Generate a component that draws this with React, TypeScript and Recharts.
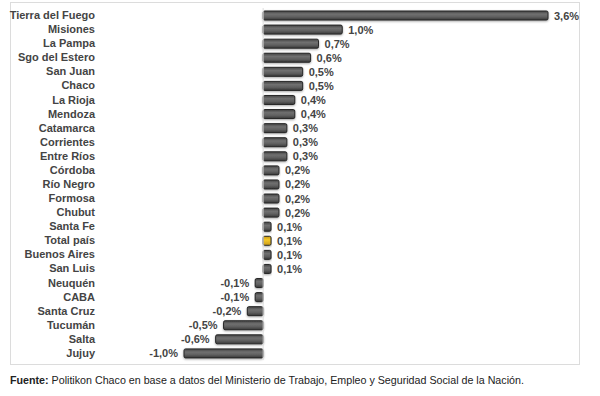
import React from "react";
import { BarChart, Bar, XAxis, YAxis, Cell, LabelList, ReferenceLine } from "recharts";

const categories = [
  "Tierra del Fuego", "Misiones", "La Pampa", "Sgo del Estero", "San Juan", "Chaco",
  "La Rioja", "Mendoza", "Catamarca", "Corrientes", "Entre Ríos", "Córdoba",
  "Río Negro", "Formosa", "Chubut", "Santa Fe", "Total país", "Buenos Aires",
  "San Luis", "Neuquén", "CABA", "Santa Cruz", "Tucumán", "Salta", "Jujuy",
];
const values = [
  3.6, 1.0, 0.7, 0.6, 0.5, 0.5, 0.4, 0.4, 0.3, 0.3, 0.3, 0.2, 0.2, 0.2, 0.2,
  0.1, 0.1, 0.1, 0.1, -0.1, -0.1, -0.2, -0.5, -0.6, -1.0,
];
const highlight = "Total país";
const xDomain = [-1.0, 3.6];

const data = categories.map((name, i) => ({ name, value: values[i] }));

const fmt = (v: number) => `${v.toFixed(1).replace(".", ",")}%`;
const FONT = "'Liberation Sans', Arial, sans-serif";

const CatTick = (props: any) => {
  const { y, payload } = props;
  return (
    <text x={95} y={y} dy={4} textAnchor="end" fontFamily={FONT} fontSize={11} fontWeight="bold" fill="#444">
      {payload.value}
    </text>
  );
};

const ValueLabel = (props: any) => {
  const { x, y, width, height, value } = props;
  const neg = value < 0;
  const end = x + width;
  const lx = neg ? Math.min(x, end) - 6 : Math.max(x, end) + 6;
  return (
    <text x={lx} y={y + height / 2} dy={4} textAnchor={neg ? "end" : "start"} fontFamily={FONT} fontSize={11} fontWeight="bold" fill="#444">
      {fmt(value)}
    </text>
  );
};

export default function App() {
  return (
    <div style={{ position: "absolute", left: 0, top: 0, width: 600, height: 396, background: "#fff", fontFamily: FONT }}>
      <div style={{ position: "absolute", left: 10, top: 2, width: 570, height: 363, border: "1px solid #dcdcdc", boxSizing: "border-box" }} />
      <div style={{ position: "absolute", left: 0, top: 0 }}>
        <BarChart width={600} height={396} layout="vertical" data={data} margin={{ top: 8, right: 52, bottom: 36, left: 0 }} barCategoryGap={0}>
          <defs>
            <linearGradient id="barGrad" x1="0" y1="0" x2="0" y2="1">
              <stop offset="0%" stopColor="#444" />
              <stop offset="35%" stopColor="#707070" />
              <stop offset="65%" stopColor="#606060" />
              <stop offset="100%" stopColor="#383838" />
            </linearGradient>
            <linearGradient id="goldGrad" x1="0" y1="0" x2="0" y2="1">
              <stop offset="0%" stopColor="#c89a18" />
              <stop offset="40%" stopColor="#f5c82a" />
              <stop offset="100%" stopColor="#c89a18" />
            </linearGradient>
            <filter id="shadow" x="-10%" y="-50%" width="120%" height="200%">
              <feDropShadow dx="0" dy="1" stdDeviation="0.8" floodColor="#000" floodOpacity="0.35" />
            </filter>
          </defs>
          <XAxis type="number" domain={xDomain} hide />
          <YAxis type="category" dataKey="name" width={184} axisLine={false} tickLine={false} tick={<CatTick />} interval={0} />
          <ReferenceLine x={0} stroke="#dedede" />
          <Bar dataKey="value" barSize={9} isAnimationActive={false} stroke="#262626" strokeWidth={1} radius={1.5} style={{ filter: "url(#shadow)" }}>
            {data.map((d) => (
              <Cell key={d.name} fill={d.name === highlight ? "url(#goldGrad)" : "url(#barGrad)"} />
            ))}
            <LabelList dataKey="value" content={<ValueLabel />} />
          </Bar>
        </BarChart>
      </div>
      <div style={{ position: "absolute", left: 10, top: 374, fontSize: 10.7, color: "#222", whiteSpace: "nowrap" }}>
        <b>Fuente:</b> Politikon Chaco en base a datos del Ministerio de Trabajo, Empleo y Seguridad Social de la Nación.
      </div>
    </div>
  );
}
